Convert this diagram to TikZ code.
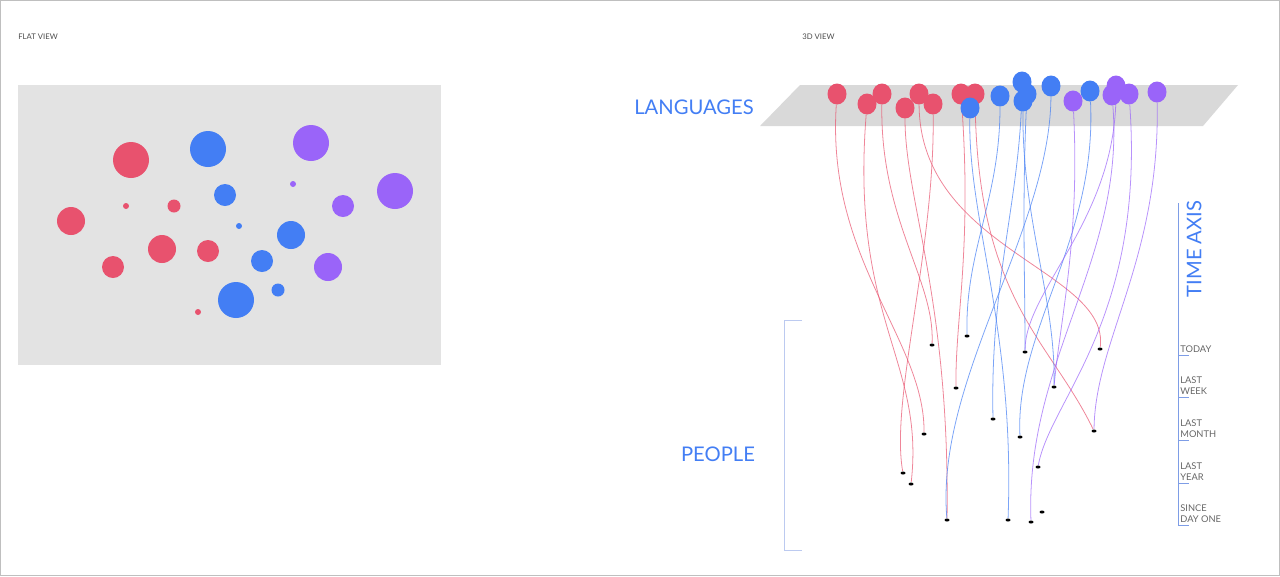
\documentclass[tikz,border=0pt]{standalone}
\usepackage{fontspec}
\setmainfont{Lato}
\usetikzlibrary{shapes.geometric}
\definecolor{rose}{HTML}{E8526E}
\definecolor{azure}{HTML}{437EF4}
\definecolor{lilac}{HTML}{9A64F9}
\definecolor{axisblue}{HTML}{7E9DE6}
\definecolor{brackblue}{HTML}{BCCAF0}
\pgfdeclarelayer{back}
\pgfsetlayers{back,main}
\begin{document}
\begin{tikzpicture}[x=.02cm,y=-.02cm,
	ball/.style={ellipse,inner sep=0,minimum width=.38cm,minimum height=.42cm},
	person/.style={ellipse,fill=black,inner sep=0,minimum width=.1cm,minimum height=.06cm},
	wire/.style={line width=.45pt,opacity=.7},
	viewlbl/.style={text=black!70,font=\fontsize{4.4}{5}\selectfont,anchor=west,inner sep=0},
	timelbl/.style={text=black!60,font=\fontsize{5.3}{6.4}\selectfont,align=left,anchor=south west,inner sep=0},
	bigblue/.style={text=azure,font=\fontsize{11.5}{12}\selectfont,inner sep=0}]
	\useasboundingbox (0,0) rectangle (1280,576);
	\draw[black!25] (.5,.5) rectangle (1279.5,575.5);
	\node[viewlbl] (flat) at (18,37) {FLAT VIEW};
	\node[viewlbl] (solid) at (802,37) {3D VIEW};
	% flat view
	\fill[black!11] (18,85) rectangle (441,365);
	\foreach \x/\y/\r/\col in {131/160/18/rose, 208/149/18/azure, 311/143/18/lilac, 293/184/3/lilac, 395/191/18/lilac,
		225/195/11/azure, 343/206/11/lilac, 126/206/3/rose, 174/206/6.5/rose, 71/221/14/rose, 239/226/3/azure,
		291/235/14/azure, 162/249/14/rose, 208/251/11/rose, 262/261/11/azure, 328/267/14/lilac, 113/267/11/rose,
		278/290/6.5/azure, 236/300/18/azure, 198/312/3/rose}
		\fill[\col] (\x,\y) circle[radius=\r];
	% 3d view
	\begin{pgfonlayer}{back}
		\fill[black!15] (800,85)--(1238,85)--(1203,126)--(760,126)--cycle;
	\end{pgfonlayer}
	\node[bigblue] (lang) at (694,107) {LANGUAGES};
	\node[bigblue] (people) at (718,454) {PEOPLE};
	\draw[brackblue] (802,320)--(784,320)--(784,550)--(802,550);
	\foreach \n/\x/\y/\col in {b3/1022/82/azure, v2/1116/86/lilac, b6/1051/86/azure, b7/1090/91/azure, v5/1157/92/lilac,
		r1/837/94/rose, r3/882/94/rose, r5/919/94/rose, r7/961/94/rose, r8/975/94/rose, b4/1027/94/azure,
		v4/1129/94/lilac, v3/1112/95/lilac, b2/1000/96/azure, b5/1023/101/azure, v1/1073/101/lilac,
		r2/867/104/rose, r6/933/104/rose, r4/905/108/rose, b1/970/108/azure}
		\node[ball,fill=\col] (\n) at (\x,\y) {};
	\foreach \n/\x/\y in {p1/932/345, p2/967/336, p3/1025/352, p4/1100/349, p5/956/388, p6/1054/387,
		p7/993/419, p8/924/434, p9/1020/437, p10/1094/431, p11/1038/467, p12/903/473, p13/911/484,
		p14/1042/512, p15/947/520, p16/1008/520, p17/1031/522}
		\node[person] (\n) at (\x,\y) {};
	\begin{pgfonlayer}{back}
		\foreach \a/\b/\xa/\ya/\xb/\yb/\col in {r1/p8/826/260/925/340/rose, r2/p13/850/320/925/360/rose,
			r3/p1/880/220/935/280/rose, r4/p15/905/200/950/300/rose, r5/p4/920/250/1110/270/rose,
			r6/p12/935/250/890/400/rose, r7/p5/972/250/955/320/rose, r8/p10/978/300/1050/340/rose,
			b1/p16/968/220/1015/330/azure, b2/p2/1000/200/965/250/azure, b3/p7/1020/200/990/280/azure,
			b4/p3/1022/200/1025/280/azure, b5/p6/1022/220/1056/300/azure, b6/p15/1050/230/935/380/azure,
			b7/p9/1097/240/1015/330/azure, v1/p6/1080/240/1060/320/lilac, v2/p3/1115/220/1025/290/lilac,
			v3/p17/1125/260/1025/360/lilac, v4/p11/1145/320/1050/400/lilac, v5/p10/1160/260/1095/340/lilac}
			\draw[wire,\col] (\a) .. controls (\xa,\ya) and (\xb,\yb) .. (\b);
	\end{pgfonlayer}
	% time axis
	\draw[axisblue] (1178,203)--(1178,525);
	\foreach \y in {355,397,440,483,525}\draw[axisblue] (1178,\y)--+(11,0);
	\node[bigblue,rotate=90] (axis) at (1194,249) {TIME AXIS};
	\node[timelbl] (today) at (1180,353) {TODAY};
	\node[timelbl] (week) at (1180,395) {LAST\\WEEK};
	\node[timelbl] (month) at (1180,438) {LAST\\MONTH};
	\node[timelbl] (year) at (1180,481) {LAST\\YEAR};
	\node[timelbl] (ever) at (1180,523) {SINCE\\DAY ONE};
\end{tikzpicture}
\end{document}
